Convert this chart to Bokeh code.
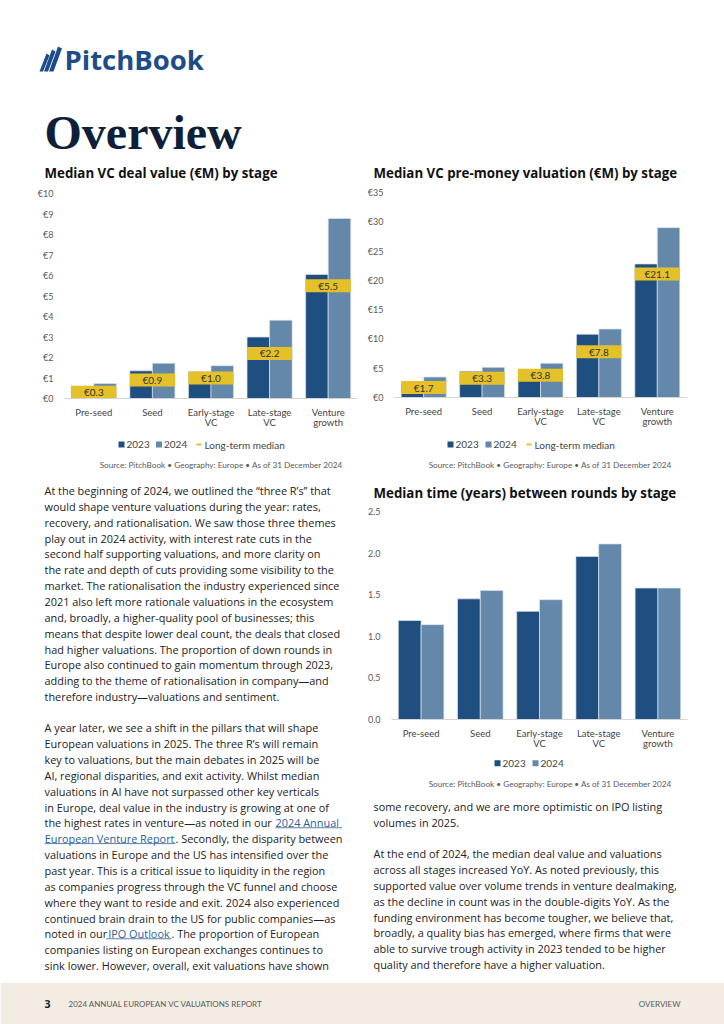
from bokeh.plotting import figure
from bokeh.models import Range1d, FactorRange, FixedTicker, ColumnDataSource, PrintfTickFormatter, NumeralTickFormatter
from bokeh.layouts import column, row
from bokeh.transform import dodge
from bokeh.core.properties import value
from bokeh.embed import file_html
from bokeh.resources import INLINE

# ---------------- data ----------------
stages = ["Pre-seed", "Seed", "Early-stage\nVC", "Late-stage\nVC", "Venture\ngrowth"]
years = ["2023", "2024"]

deal_2023 = [0.60, 1.35, 1.30, 3.00, 6.05]
deal_2024 = [0.73, 1.72, 1.60, 3.82, 8.78]
deal_median = [0.3, 0.9, 1.0, 2.2, 5.5]
deal_ticks = [0, 1, 2, 3, 4, 5, 6, 7, 8, 9, 10]

pre_2023 = [2.4, 4.47, 4.8, 10.8, 22.8]
pre_2024 = [3.5, 5.15, 5.84, 11.7, 29.0]
pre_median = [1.7, 3.3, 3.8, 7.8, 21.1]
pre_ticks = [0, 5, 10, 15, 20, 25, 30, 35]

time_2023 = [1.19, 1.45, 1.30, 1.96, 1.58]
time_2024 = [1.14, 1.55, 1.44, 2.11, 1.58]
time_ticks = [0.0, 0.5, 1.0, 1.5, 2.0, 2.5]

titles = ["Median VC deal value (€M) by stage",
          "Median VC pre-money valuation (€M) by stage",
          "Median time (years) between rounds by stage"]
source_note = "Source: PitchBook  •  Geography: Europe  •  As of 31 December 2024"
median_name = "Long-term median"

para1 = [
    "At the beginning of 2024, we outlined the “three R’s” that",
    "would shape venture valuations during the year: rates,",
    "recovery, and rationalisation. We saw those three themes",
    "play out in 2024 activity, with interest rate cuts in the",
    "second half supporting valuations, and more clarity on",
    "the rate and depth of cuts providing some visibility to the",
    "market. The rationalisation the industry experienced since",
    "2021 also left more rationale valuations in the ecosystem",
    "and, broadly, a higher-quality pool of businesses; this",
    "means that despite lower deal count, the deals that closed",
    "had higher valuations. The proportion of down rounds in",
    "Europe also continued to gain momentum through 2023,",
    "adding to the theme of rationalisation in company—and",
    "therefore industry—valuations and sentiment.",
]
para2 = [
    "A year later, we see a shift in the pillars that will shape",
    "European valuations in 2025. The three R’s will remain",
    "key to valuations, but the main debates in 2025 will be",
    "AI, regional disparities, and exit activity. Whilst median",
    "valuations in AI have not surpassed other key verticals",
    "in Europe, deal value in the industry is growing at one of",
    "the highest rates in venture—as noted in our 2024 Annual",
    "European Venture Report. Secondly, the disparity between",
    "valuations in Europe and the US has intensified over the",
    "past year. This is a critical issue to liquidity in the region",
    "as companies progress through the VC funnel and choose",
    "where they want to reside and exit. 2024 also experienced",
    "continued brain drain to the US for public companies—as",
    "noted in our IPO Outlook. The proportion of European",
    "companies listing on European exchanges continues to",
    "sink lower. However, overall, exit valuations have shown",
]
links = ["2024 Annual", "European Venture Report", "IPO Outlook"]
para3 = [
    "some recovery, and we are more optimistic on IPO listing",
    "volumes in 2025.",
]
para4 = [
    "At the end of 2024, the median deal value and valuations",
    "across all stages increased YoY. As noted previously, this",
    "supported value over volume trends in venture dealmaking,",
    "as the decline in count was in the double-digits YoY. As the",
    "funding environment has become tougher, we believe that,",
    "broadly, a quality bias has emerged, where firms that were",
    "able to survive trough activity in 2023 tended to be higher",
    "quality and therefore have a higher valuation.",
]
footer_left = "2024 ANNUAL EUROPEAN VC VALUATIONS REPORT"
footer_right = "OVERVIEW"

# ---------------- style ----------------
C23 = "#1F4E80"
C24 = "#6388AA"
CMED = "#E4C129"
NAVY = "#0F1F3A"
BODY = "#222222"
LINK = "#2C5E99"
GREY = "#5A5A5A"
BODY_FONT = "Open Sans"
SMALL = "Lato"
BODY_SIZE = 10.9


def canvas(w, h, x0, y0):
    p = figure(width=w, height=h, x_range=Range1d(x0, x0 + w), y_range=Range1d(y0 + h, y0),
               x_axis_type=None, y_axis_type=None, toolbar_location=None,
               output_backend="svg", min_border=0)
    p.outline_line_color = None
    p.background_fill_color = "white"
    p.border_fill_color = "white"
    return p


def txt(p, xs, ys, texts, size, color, font=BODY_FONT, style="normal",
        align="left", baseline="middle"):
    p.text(x=xs, y=ys, text=texts, text_font=value(font),
           text_font_size=value(f"{size}px"), text_color=color,
           text_font_style=style, text_align=align, text_baseline=baseline)


def bar_chart(w, h, mb, ymax, ticks, fmt, v23, v24, med=None):
    p = figure(width=w, height=h, x_range=FactorRange(*stages), y_range=Range1d(0, ymax),
               toolbar_location=None, output_backend="svg",
               min_border_left=mb[0], min_border_right=mb[1],
               min_border_top=mb[2], min_border_bottom=mb[3])
    src = ColumnDataSource(dict(stage=stages, y23=v23, y24=v24))
    p.vbar(x=dodge("stage", -0.1925, range=p.x_range), top="y23", width=0.385,
           source=src, fill_color=C23, line_color="#dbe3ec", line_width=0.7)
    p.vbar(x=dodge("stage", 0.1925, range=p.x_range), top="y24", width=0.385,
           source=src, fill_color=C24, line_color="#dbe3ec", line_width=0.7)
    if med is not None:
        msrc = ColumnDataSource(dict(stage=stages, med=med,
                                     lab=[f"€{m:.1f}" for m in med]))
        p.rect(x="stage", y="med", width=0.77, height=13, height_units="screen",
               source=msrc, fill_color=CMED, line_color=None)
        p.text(x="stage", y="med", text="lab", source=msrc, text_align="center",
               text_baseline="middle", text_font=value(SMALL),
               text_font_size=value("10px"), text_color="#333333")
    p.xgrid.visible = False
    p.ygrid.visible = False
    p.outline_line_color = None
    p.yaxis.ticker = FixedTicker(ticks=ticks)
    p.yaxis.formatter = fmt
    p.yaxis.axis_line_color = None
    p.yaxis.major_tick_line_color = None
    p.yaxis.minor_tick_line_color = None
    p.yaxis.major_label_standoff = 5
    p.yaxis.major_label_text_font = SMALL
    p.yaxis.major_label_text_font_size = "9px"
    p.yaxis.major_label_text_color = GREY
    p.xaxis.axis_line_color = "#d4d4d4"
    p.xaxis.major_tick_line_color = None
    p.xaxis.major_tick_out = 0
    p.xaxis.major_label_standoff = 8
    p.xaxis.major_label_text_font = SMALL
    p.xaxis.major_label_text_font_size = "9.5px"
    p.xaxis.major_label_text_line_height = 0.95
    p.xaxis.major_label_text_color = "#444444"
    return p


def legend_canvas(w, h, x0, y0, items_x, ly, with_median, src_right, src_y):
    p = canvas(w, h, x0, y0)
    p.rect(x=[items_x[0] + 3], y=[ly], width=6, height=6, fill_color=C23, line_color=None)
    p.rect(x=[items_x[1] + 3], y=[ly], width=6, height=6, fill_color=C24, line_color=None)
    txt(p, [items_x[0] + 8, items_x[1] + 8], [ly, ly], years, 10, "#444444", font=SMALL)
    if with_median:
        p.segment(x0=[items_x[2]], y0=[ly], x1=[items_x[2] + 5], y1=[ly],
                  line_color=CMED, line_width=2)
        txt(p, [items_x[2] + 8], [ly], [median_name], 10, "#444444", font=SMALL)
    txt(p, [src_right], [src_y], [source_note], 8.2, GREY, font=SMALL, align="right")
    return p


# ---------------- header ----------------
head = canvas(724, 160, 0, 0)
head.patches(xs=[[39, 42.5, 49, 46], [43.5, 47.5, 55, 51.5], [48.5, 53, 61.5, 57.5]],
             ys=[[71, 71, 55, 53], [71, 71, 51, 49], [71, 71, 48, 46]],
             fill_color="#1C4C89", line_color=None)
txt(head, [64], [59], ["PitchBook"], 27.5, "#1C4C89", style="bold")
txt(head, [44], [132], ["Overview"], 48, NAVY, font="Liberation Serif", style="bold")

# ---------------- left column ----------------
t1 = canvas(362, 25, 0, 160)
txt(t1, [44], [172.5], [titles[0]], 13.3, "#111111", style="bold")
c1 = bar_chart(362, 251, (64, 5, 8, 38), 10, deal_ticks, PrintfTickFormatter(format="€%d"),
               deal_2023, deal_2024, deal_median)
l1 = legend_canvas(362, 39, 0, 436, [118, 155.5, 196], 444, True, 350.7, 464)

tl = canvas(362, 507, 0, 475)
lh = 15.86
txt(tl, [44] * len(para1), [490 + i * lh for i in range(len(para1))], para1, BODY_SIZE, BODY)
y2 = [727.3 + i * lh for i in range(len(para2))]
link_pos = {links[0]: (275.0, 341.5), links[1]: (44.3, 175.0), links[2]: (107.7, 171.0)}
plain_x, plain_y, plain_t = [], [], []
for i, line in enumerate(para2):
    hit = None
    for lk in links:
        if lk in line:
            hit = lk
    if hit is None:
        plain_x.append(44); plain_y.append(y2[i]); plain_t.append(line)
        continue
    k = line.index(hit)
    pre, post = line[:k], line[k + len(hit):]
    x_start, x_end = link_pos[hit]
    if pre.strip():
        plain_x.append(44); plain_y.append(y2[i]); plain_t.append(pre.rstrip())
    if post:
        plain_x.append(x_end); plain_y.append(y2[i]); plain_t.append(post)
    txt(tl, [x_start], [y2[i]], [hit], BODY_SIZE, LINK)
    tl.segment(x0=[x_start - (2 if hit == links[2] else 0)], y0=[y2[i] + 4.8],
               x1=[x_end], y1=[y2[i] + 4.8], line_color=LINK, line_width=0.8)
txt(tl, plain_x, plain_y, plain_t, BODY_SIZE, BODY)

left_col = column(t1, row(c1), l1, tl, spacing=0)

# ---------------- right column ----------------
t2 = canvas(362, 25, 362, 160)
txt(t2, [373], [172.5], [titles[1]], 13.3, "#111111", style="bold")
c2 = bar_chart(362, 251, (32, 38, 7, 39), 35, pre_ticks, PrintfTickFormatter(format="€%d"),
               pre_2023, pre_2024, pre_median)
l2 = legend_canvas(362, 39, 362, 436, [447, 485, 526], 444, True, 679.7, 464)
t3 = canvas(362, 28, 362, 475)
txt(t3, [373], [492], [titles[2]], 13.3, "#111111", style="bold")
c3 = bar_chart(362, 252, (29, 37, 8, 36), 2.5, time_ticks, NumeralTickFormatter(format="0.0"),
               time_2023, time_2024, None)
l3 = legend_canvas(362, 40, 362, 755, [494, 532], 762.7, False, 679.7, 783.3)
tr = canvas(362, 187, 362, 795)
txt(tr, [373] * len(para3), [805.7 + i * 15.8 for i in range(len(para3))], para3, BODY_SIZE, BODY)
txt(tr, [373] * len(para4), [853.3 + i * 15.8 for i in range(len(para4))], para4, BODY_SIZE, BODY)

right_col = column(t2, row(c2), l2, t3, row(c3), l3, tr, spacing=0)

# ---------------- footer ----------------
foot = canvas(724, 42, 0, 982)
foot.quad(left=[0], right=[724], top=[982], bottom=[1024], fill_color="#F2ECE2", line_color=None)
txt(foot, [44], [1003], ["3"], 10.5, NAVY, style="bold")
txt(foot, [68], [1003], [footer_left], 8, GREY, font=SMALL)
txt(foot, [680], [1003], [footer_right], 8, GREY, font=SMALL, align="right")

page = column(head, row(left_col, right_col, spacing=0), foot, spacing=0)

open("out.html", "w").write(file_html(page, INLINE))
